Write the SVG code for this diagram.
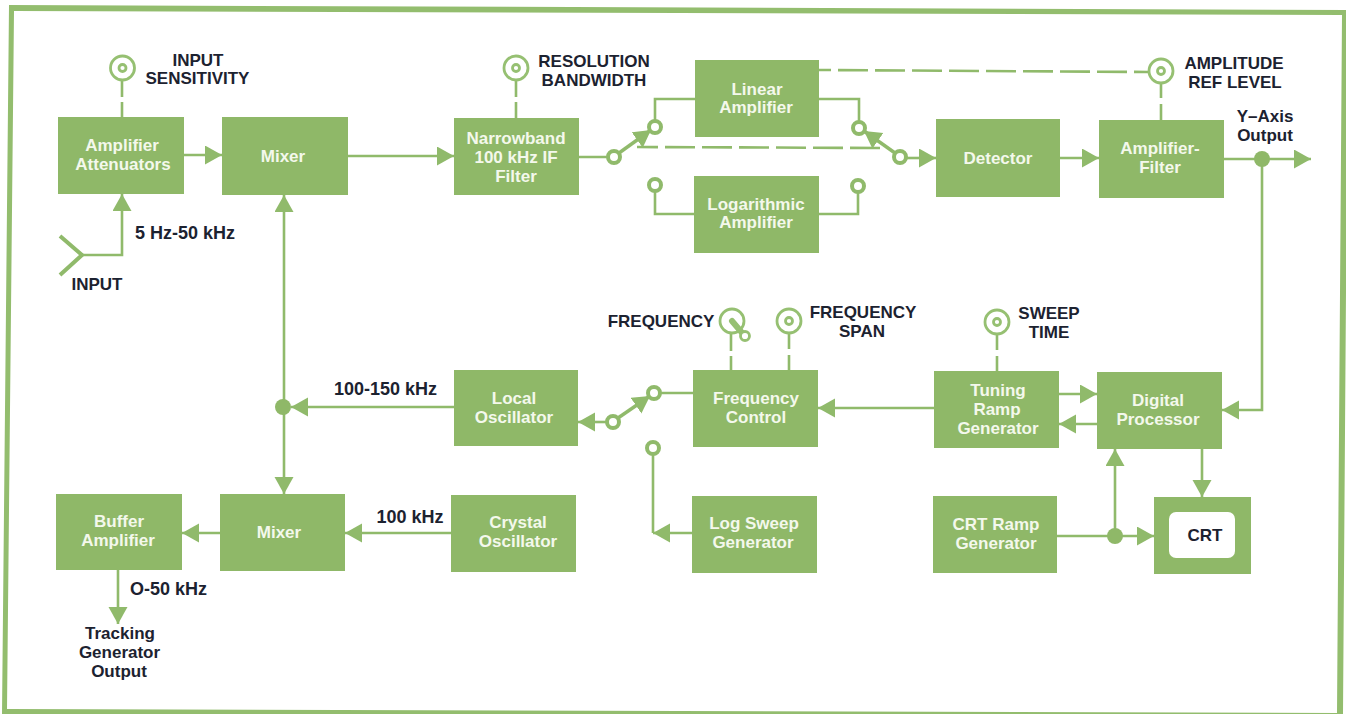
<svg xmlns="http://www.w3.org/2000/svg" width="1346" height="714" viewBox="0 0 1346 714">
<style>
.box{fill:#8fb868}
.ln{fill:none;stroke:#90ba6b;stroke-width:2.6}
.arr{marker-end:url(#ah)}
.d{stroke-dasharray:30 7}
.k{fill:#fff;stroke:#96c072;stroke-width:2.8}
.c{fill:#fff;stroke:#90ba6b;stroke-width:4}
.dot{fill:#8fb868}
text{font-family:"Liberation Sans",Arial,sans-serif;font-weight:700;font-size:17px;text-anchor:middle}
.w{fill:#f4f8ec}
.b{fill:#1c2230}
.l{font-size:18px}
</style>
<defs>
<marker id="ah" markerUnits="userSpaceOnUse" markerWidth="18" markerHeight="20" refX="17" refY="9.5" orient="auto"><path d="M0 0L17 9.500L0 19z" fill="#90ba6b"/></marker>
</defs>
<path id="frame" fill="#93bd6e" fill-rule="evenodd" d="M9 5L1348 10L1343 714H2ZM14 11L7 709L1337 713L1342 15Z"/>
<g id="connectors">
<path class="ln" d="M122 80V97M122 102V117M516 80V97M516 102V118M1161 83V98M1161 104V120M731 334V351M731 356V370M789 333V349M789 355V370M997 334V350M997 356V371"/>
<path class="ln d" stroke-dashoffset="18" d="M819 70L1148 72"/>
<path class="ln d" stroke-dashoffset="9" d="M637 147L880 148"/>
<path class="ln" style="stroke-width:4" d="M60 236L82 255L60 275"/>
<path class="ln arr" d="M82 255H122V194"/>
<path class="ln arr" d="M184 155H222"/>
<path class="ln arr" d="M348 156H454"/>
<path class="ln" d="M579 157H608M655 127V99H695M819 99H859V128M655 185V214H694M819 214H858V186M654 393H693M653 455V533"/>
<path class="ln arr" style="stroke-width:3.4" d="M619 153L651 130"/>
<path class="ln arr" style="stroke-width:3.4" d="M895 153L864 131"/>
<path class="ln arr" d="M906 158H936"/>
<path class="ln arr" d="M1060 158H1099"/>
<path class="ln arr" d="M1224 159H1311"/>
<path class="ln arr" d="M1262 159V410H1222"/>
<path class="ln arr" d="M284 407V195"/>
<path class="ln arr" d="M284 407V494"/>
<path class="ln arr" d="M454 407H291"/>
<path class="ln arr" d="M607 422H578"/>
<path class="ln arr" style="stroke-width:3.4" d="M618 418L650 396"/>
<path class="ln arr" d="M692 533H653"/>
<path class="ln arr" d="M934 408H818"/>
<path class="ln arr" d="M1059 394H1097"/>
<path class="ln arr" d="M1097 424H1059"/>
<path class="ln arr" d="M1202 449V497"/>
<path class="ln arr" d="M1057 536H1154"/>
<path class="ln arr" d="M1115 536V449"/>
<path class="ln arr" d="M451 533H345"/>
<path class="ln arr" d="M220 533H182"/>
<path class="ln arr" d="M118 570V624"/>
<circle class="dot" cx="1262" cy="159" r="8"/><circle class="dot" cx="283" cy="407" r="8"/><circle class="dot" cx="1115" cy="536" r="8"/>
<circle class="c" cx="614" cy="157" r="6"/><circle class="c" cx="655" cy="127" r="6"/><circle class="c" cx="859" cy="128" r="6"/><circle class="c" cx="900" cy="157" r="6"/><circle class="c" cx="655" cy="185" r="6"/><circle class="c" cx="858" cy="186" r="6"/><circle class="c" cx="613" cy="422" r="6"/><circle class="c" cx="654" cy="393" r="6"/><circle class="c" cx="653" cy="448" r="6"/>
</g>
<g id="k-input"><circle class="k" cx="122.500" cy="68" r="12"/><circle class="k" cx="122.500" cy="68" r="3.500"/><text class="b" x="198" y="66">INPUT</text><text class="b" x="197.500" y="84">SENSITIVITY</text></g>
<g id="k-res"><circle class="k" cx="516" cy="68" r="12"/><circle class="k" cx="516" cy="68" r="3.500"/><text class="b" x="594" y="67">RESOLUTION</text><text class="b" x="594" y="86">BANDWIDTH</text></g>
<g id="k-amp"><circle class="k" cx="1161" cy="71" r="12"/><circle class="k" cx="1161" cy="71" r="3.500"/><text class="b" x="1234" y="69">AMPLITUDE</text><text class="b" x="1235" y="88">REF LEVEL</text></g>
<g id="k-freq"><circle class="k" cx="732" cy="321" r="12"/><path d="M732 321L743 334" style="stroke:#96c072;stroke-width:6;fill:none;stroke-linecap:round"/><circle class="k" cx="745" cy="336" r="4.500"/><text class="b" x="661" y="327">FREQUENCY</text></g>
<g id="k-span"><circle class="k" cx="789" cy="321" r="12"/><circle class="k" cx="789" cy="321" r="3.500"/><text class="b" x="863" y="318">FREQUENCY</text><text class="b" x="862" y="337">SPAN</text></g>
<g id="k-sweep"><circle class="k" cx="997" cy="322" r="12"/><circle class="k" cx="997" cy="322" r="3.500"/><text class="b" x="1049" y="319">SWEEP</text><text class="b" x="1049" y="338">TIME</text></g>
<g id="amp-att"><rect class="box" x="58" y="117" width="126" height="77"/><text class="w" x="122" y="151">Amplifier</text><text class="w" x="123" y="170">Attenuators</text></g>
<g id="mixer1"><rect class="box" x="222" y="117" width="126" height="78"/><text class="w" x="283" y="162">Mixer</text></g>
<g id="narrowband"><rect class="box" x="454" y="118" width="125" height="77"/><text class="w" x="516" y="144">Narrowband</text><text class="w" x="516" y="163">100 kHz IF</text><text class="w" x="516" y="182">Filter</text></g>
<g id="linear"><rect class="box" x="695" y="60" width="124" height="77"/><text class="w" x="757" y="95">Linear</text><text class="w" x="756" y="113">Amplifier</text></g>
<g id="log"><rect class="box" x="694" y="176" width="125" height="77"/><text class="w" x="756" y="210">Logarithmic</text><text class="w" x="756" y="228">Amplifier</text></g>
<g id="detector"><rect class="box" x="936" y="119" width="124" height="78"/><text class="w" x="998" y="164">Detector</text></g>
<g id="amp-filter"><rect class="box" x="1099" y="120" width="125" height="78"/><text class="w" x="1160" y="154">Amplifier-</text><text class="w" x="1160" y="173">Filter</text></g>
<g id="local-osc"><rect class="box" x="454" y="370" width="124" height="76"/><text class="w" x="514" y="404">Local</text><text class="w" x="514" y="423">Oscillator</text></g>
<g id="freq-control"><rect class="box" x="693" y="370" width="125" height="77"/><text class="w" x="756" y="404">Frequency</text><text class="w" x="756" y="423">Control</text></g>
<g id="tuning"><rect class="box" x="934" y="371" width="125" height="77"/><text class="w" x="998" y="396">Tuning</text><text class="w" x="997" y="415">Ramp</text><text class="w" x="998" y="434">Generator</text></g>
<g id="digital"><rect class="box" x="1097" y="372" width="125" height="77"/><text class="w" x="1158" y="406">Digital</text><text class="w" x="1158" y="425">Processor</text></g>
<g id="buffer"><rect class="box" x="56" y="494" width="126" height="76"/><text class="w" x="119" y="527">Buffer</text><text class="w" x="118" y="546">Amplifier</text></g>
<g id="mixer2"><rect class="box" x="220" y="494" width="125" height="77"/><text class="w" x="279" y="538">Mixer</text></g>
<g id="crystal"><rect class="box" x="451" y="495" width="125" height="77"/><text class="w" x="518" y="528">Crystal</text><text class="w" x="518" y="547">Oscillator</text></g>
<g id="log-sweep"><rect class="box" x="692" y="496" width="125" height="77"/><text class="w" x="754" y="529">Log Sweep</text><text class="w" x="753" y="548">Generator</text></g>
<g id="crt-ramp"><rect class="box" x="933" y="496" width="124" height="77"/><text class="w" x="996" y="530">CRT Ramp</text><text class="w" x="996" y="549">Generator</text></g>
<g id="crt"><rect class="box" x="1154" y="497" width="97" height="77"/><rect x="1169" y="512" width="66" height="46" rx="7" fill="#fff"/><text class="b" x="1205" y="541">CRT</text></g>
<g id="labels">
<text class="b" x="97" y="290">INPUT</text>
<text class="b l" x="185" y="239">5 Hz-50 kHz</text>
<text class="b l" x="385.500" y="395">100-150 kHz</text>
<text class="b l" x="410" y="523">100 kHz</text>
<text class="b l" x="168.500" y="595">O-50 kHz</text>
<text class="b" x="120" y="639">Tracking</text><text class="b" x="119.500" y="658">Generator</text><text class="b" x="119" y="677">Output</text>
<text class="b" x="1265" y="122">Y–Axis</text><text class="b" x="1265" y="141">Output</text>
</g>
</svg>
